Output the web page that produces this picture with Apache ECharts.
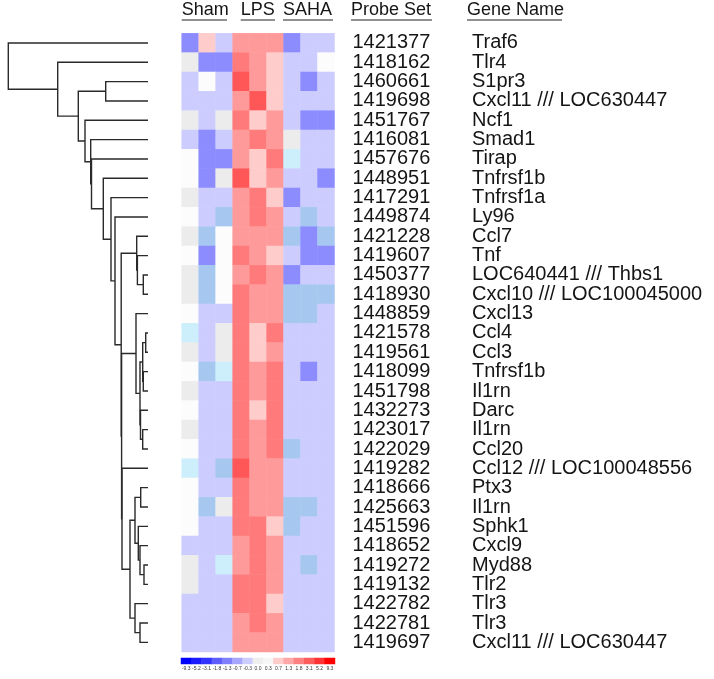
<!DOCTYPE html>
<html><head><meta charset="utf-8">
<script src="https://cdn.jsdelivr.net/npm/echarts@6/dist/echarts.min.js"></script>
<style>html,body{margin:0;padding:0;background:#fff}#c{width:714px;height:679px}</style>
</head><body><div id="c"></div>
<script>
// ---------- DATA ----------
const probeSets = ['1421377','1418162','1460661','1419698','1451767','1416081','1457676','1448951','1417291','1449874',
  '1421228','1419607','1450377','1418930','1448859','1421578','1419561','1418099','1451798','1432273',
  '1423017','1422029','1419282','1418666','1425663','1451596','1418652','1419272','1419132','1422782',
  '1422781','1419697'];
const geneNames = ['Traf6','Tlr4','S1pr3','Cxcl11 /// LOC630447','Ncf1','Smad1','Tirap','Tnfrsf1b','Tnfrsf1a','Ly96',
  'Ccl7','Tnf','LOC640441 /// Thbs1','Cxcl10 /// LOC100045000','Cxcl13','Ccl4','Ccl3','Tnfrsf1b','Il1rn','Darc',
  'Il1rn','Ccl20','Ccl12 /// LOC100048556','Ptx3','Il1rn','Sphk1','Cxcl9','Myd88','Tlr2','Tlr3',
  'Tlr3','Cxcl11 /// LOC630447'];
const samples = ['Sham 1','Sham 2','Sham 3','LPS 1','LPS 2','LPS 3','SAHA 1','SAHA 2','SAHA 3'];
const groupLabels = ['Sham','LPS','SAHA'];
const columnHeaders = ['Probe Set','Gene Name'];
// expression level per gene (row) and sample (column); -4 strongest down ... 5 strongest up
const levels = [
  [-4, 2,-2, 3, 3, 3,-4,-2,-2],
  [ 0,-4,-4, 4, 3, 2,-2,-2, 1],
  [-2, 1,-2, 5, 3, 2,-2,-4,-2],
  [-2,-2,-2, 3, 5, 2,-2,-2,-2],
  [ 0,-2, 0, 4, 2, 3,-2,-4,-4],
  [-2,-4,-2, 3, 4, 3, 0,-2,-2],
  [ 1,-4,-4, 3, 2, 4,-1,-2,-2],
  [ 1,-4, 0, 5, 2, 3,-2,-2,-4],
  [ 0,-2,-2, 3, 4, 2,-4,-2,-2],
  [ 1,-2,-3, 3, 4, 3,-2,-3,-2],
  [ 0,-3, 1, 3, 3, 3,-3,-4,-3],
  [ 1,-4, 1, 4, 3, 2,-2,-4,-4],
  [ 0,-3, 1, 3, 4, 3,-4,-2,-2],
  [ 0,-3, 1, 4, 3, 3,-3,-3,-3],
  [ 1,-2,-2, 4, 3, 3,-3,-3,-2],
  [-1,-2, 0, 4, 2, 4,-2,-2,-2],
  [ 0,-2, 0, 4, 2, 3,-2,-2,-2],
  [ 1,-3,-1, 4, 3, 4,-2,-4,-2],
  [ 0,-2,-2, 4, 3, 4,-2,-2,-2],
  [ 1,-2,-2, 4, 2, 4,-2,-2,-2],
  [ 0,-2,-2, 4, 3, 4,-2,-2,-2],
  [ 1,-2,-2, 4, 3, 4,-3,-2,-2],
  [-1,-2,-3, 5, 3, 3,-2,-2,-2],
  [ 1,-2,-2, 4, 3, 3,-2,-2,-2],
  [ 1,-3, 0, 4, 3, 3,-3,-3,-2],
  [ 1,-2,-2, 4, 4, 2,-3,-2,-2],
  [-2,-2,-2, 3, 4, 3,-2,-2,-2],
  [ 0,-2,-1, 3, 4, 3,-2,-3,-2],
  [ 0,-2,-2, 4, 4, 3,-2,-2,-2],
  [-2,-2,-2, 4, 4, 2,-2,-2,-2],
  [-2,-2,-2, 3, 4, 3,-2,-2,-2],
  [-2,-2,-2, 3, 3, 3,-2,-2,-2]
];
// hierarchical clustering linkage: [nodeA, nodeB, distance]; nodes >= 32 are earlier merges
const linkage = [
  [12,13,4.7],[11,32,10.6],[10,33,11.3],[15,16,2.3],[17,18,4.7],[35,36,5.3],[20,21,5.3],[19,38,7.5],
  [37,39,8.0],[14,40,12.0],[23,24,7.3],[27,28,4.0],[26,43,8.0],[25,44,9.7],[42,45,13.0],[30,31,8.0],
  [29,47,13.0],[46,48,18.0],[22,49,26.0],[41,50,26.4],[34,51,26.8],[9,52,33.0],[8,53,37.0],[7,54,44.7],
  [6,55,56.5],[5,56,57.3],[4,57,63.0],[2,3,42.3],[59,58,69.7],[1,60,90.3],[0,61,139.7]
];
const legendLabels = ['-9.3','-5.2','-3.1','-1.8','-1.3','-0.7','-0.3','0.0','0.3','0.7','1.3','1.8','3.1','5.2','9.3'];

// ---------- STYLE ----------
const levelColors = {'-4':'#8c8cff','-3':'#a6c8f0','-2':'#ccccff','-1':'#cdeefb','0':'#ececec','1':'#fcfcfc',
  '2':'#ffcccc','3':'#ff9a9a','4':'#ff7b7b','5':'#ff5757'};
const legendColors = ['#0000ff','#1a1aff','#3333ff','#5c5cff','#8080ff','#a6a6ff','#ccccff','#eeeeee','#f6f6f6',
  '#ffcccc','#ffa6a6','#ff8080','#ff5c5c','#ff3333','#ff0000'];
const FONT = 'Arial, "Liberation Sans", sans-serif';
const TXT = '#151515';

// ---------- BUILD ----------
const nLeaf = probeSets.length;
const nodeY = [], nodeH = [];
for (let i = 0; i < nLeaf; i++) { nodeY[i] = i; nodeH[i] = 0; }
const dendroData = linkage.map((m, k) => {
  const [a, b, h] = m, id = nLeaf + k;
  nodeY[id] = (nodeY[a] + nodeY[b]) / 2; nodeH[id] = h;
  return [h, nodeY[a], nodeY[b], nodeH[a], nodeH[b]];
});
const heatData = [];
levels.forEach((row, r) => row.forEach((v, c) => heatData.push([c, r, v])));
const legendData = legendColors.map((c, i) => [i, 0, i]);

const gTop = 33.3, gH = 618.7;
const headerPos = [
  {x1:181.7, x2:227}, {x1:240.7, x2:275}, {x1:283, x2:333}, {x1:351, x2:432}, {x1:467, x2:562}
];
const headerTexts = groupLabels.concat(columnHeaders);
const graphic = [];
headerTexts.forEach((t, i) => {
  const p = headerPos[i];
  graphic.push({type:'text', left: p.x1, top: 1, style:{text:t, font:'18px ' + FONT, fill:TXT}});
  graphic.push({type:'line', shape:{x1:p.x1, y1:20, x2:p.x2, y2:20}, style:{stroke:'#222', lineWidth:1.2}});
});

const chart = echarts.init(document.getElementById('c'), null, {renderer:'canvas'});
chart.setOption({
  animation:false,
  backgroundColor:'#fff',
  grid:[
    {left:8, top:gTop, width:140, height:gH},
    {left:181.7, top:gTop, width:152.8, height:gH},
    {left:181, top:658, width:154, height:6}
  ],
  xAxis:[
    {type:'value', gridIndex:0, min:0, max:140, inverse:true, show:false},
    {type:'category', gridIndex:1, data:samples, show:false},
    {type:'category', gridIndex:2, data:legendLabels, axisLine:{show:false}, axisTick:{show:false},
      axisLabel:{interval:0, fontSize:5, color:'#333', margin:2, fontFamily:FONT, hideOverlap:false}}
  ],
  yAxis:[
    {type:'value', gridIndex:0, min:-0.5, max:nLeaf-0.5, inverse:true, show:false},
    {type:'category', gridIndex:1, data:probeSets, inverse:true, position:'right',
      axisLine:{show:false}, axisTick:{show:false}, splitLine:{show:false},
      axisLabel:{interval:0, margin:18, fontSize:20, color:TXT, fontFamily:FONT, hideOverlap:false}},
    {type:'category', gridIndex:1, data:probeSets, inverse:true, position:'right',
      axisLine:{show:false}, axisTick:{show:false}, splitLine:{show:false},
      axisLabel:{interval:0, margin:137.5, fontSize:20, color:TXT, fontFamily:FONT, hideOverlap:false,
        formatter:(v) => geneNames[probeSets.indexOf(v)]}},
    {type:'category', gridIndex:2, data:['scale'], show:false}
  ],
  visualMap:[
    {type:'piecewise', show:false, seriesIndex:1, dimension:2,
      pieces:Object.keys(levelColors).map(k => ({value:Number(k), color:levelColors[k]}))},
    {type:'piecewise', show:false, seriesIndex:2, dimension:2,
      pieces:legendColors.map((c, i) => ({value:i, color:c}))}
  ],
  series:[
    {type:'custom', coordinateSystem:'cartesian2d', xAxisIndex:0, yAxisIndex:0, data:dendroData, silent:true,
      encode:{x:[0,3,4], y:[1,2]},
      renderItem:(params, api) => {
        const h = api.value(0), ya = api.value(1), yb = api.value(2), ha = api.value(3), hb = api.value(4);
        return {type:'polyline',
          shape:{points:[api.coord([ha, ya]), api.coord([h, ya]), api.coord([h, yb]), api.coord([hb, yb])]},
          style:{stroke:'#2a2a2a', lineWidth:1.4, fill:null}};
      }},
    {type:'heatmap', xAxisIndex:1, yAxisIndex:1, data:heatData, silent:true},
    {type:'heatmap', xAxisIndex:2, yAxisIndex:3, data:legendData, silent:true}
  ],
  graphic: graphic
});
</script></body></html>
